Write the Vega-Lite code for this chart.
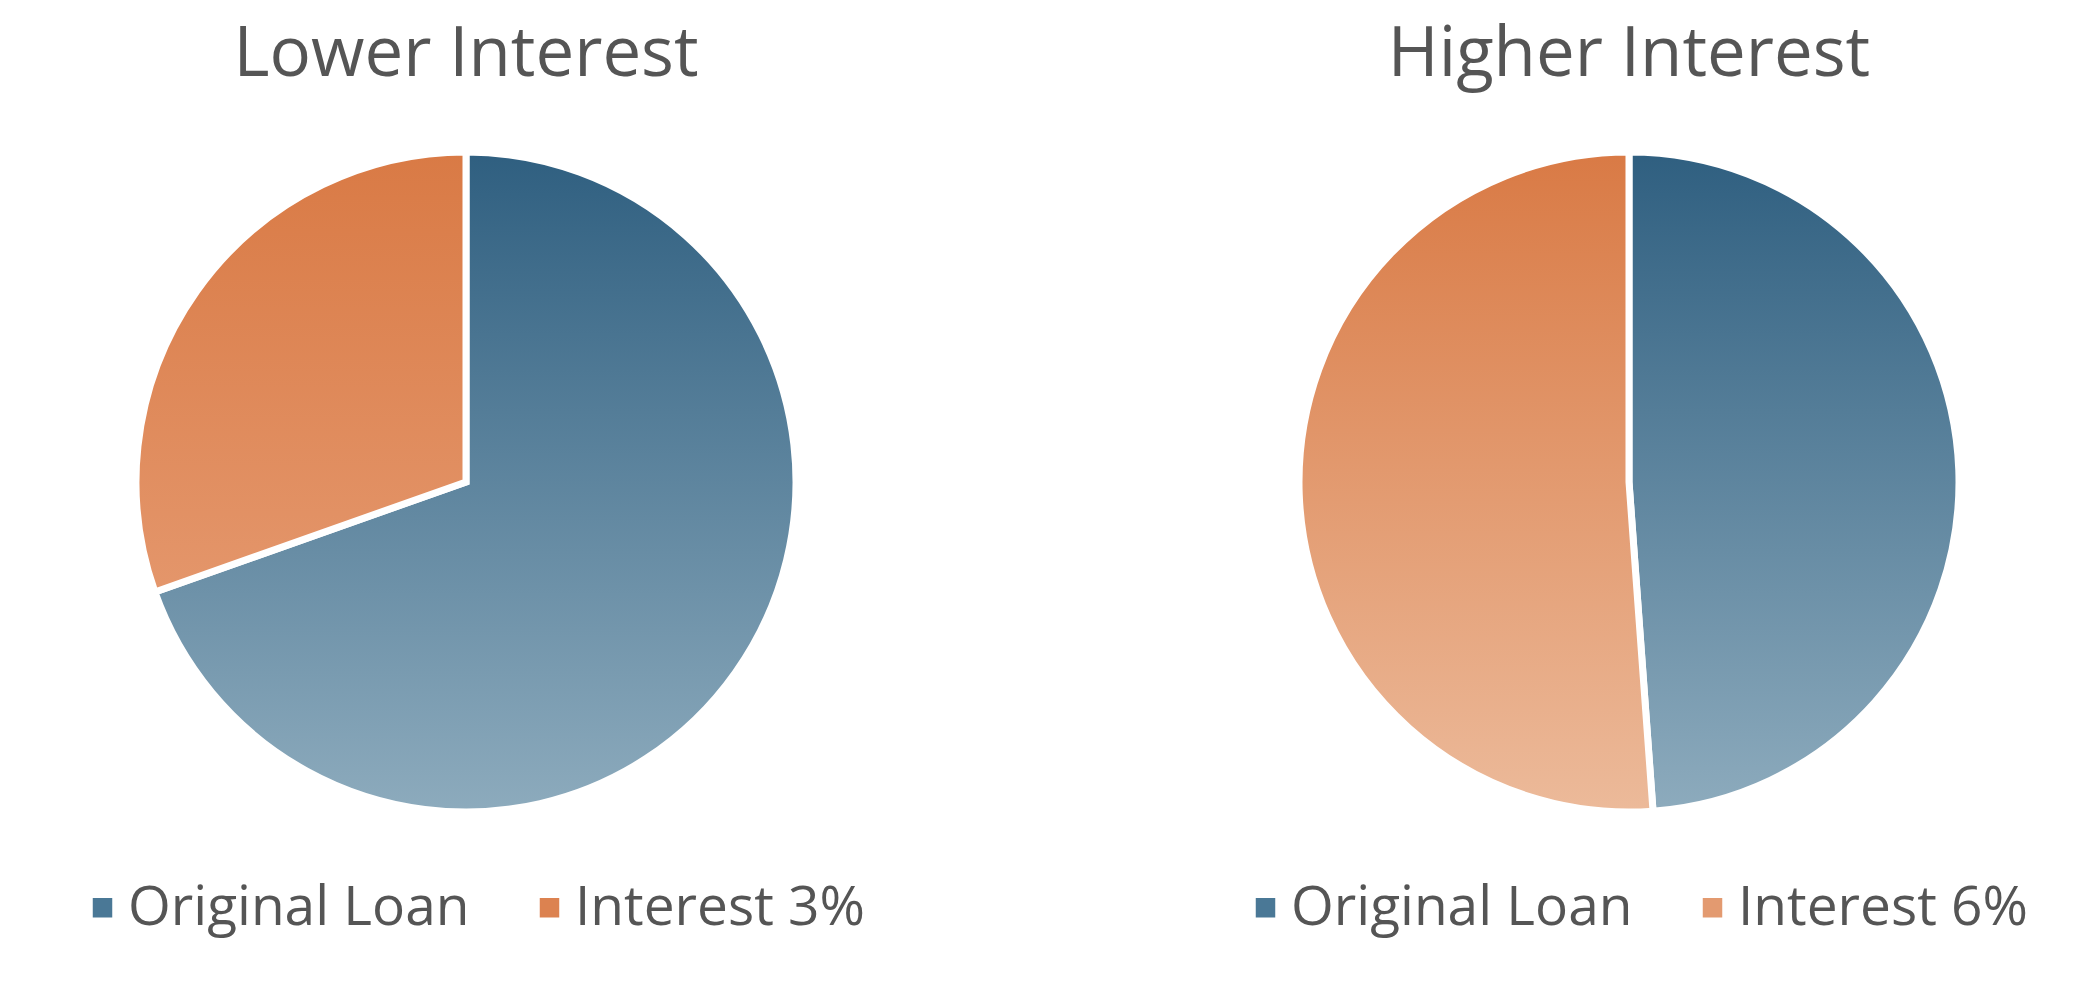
{
  "$schema": "https://vega.github.io/schema/vega-lite/v6.json",
  "background": "white",
  "autosize": {"type": "pad"},
  "padding": {"left": 75, "top": 21, "right": 0, "bottom": 40},
  "config": {
    "view": {"stroke": null},
    "font": "Open Sans",
    "title": {
      "fontSize": 69,
      "fontWeight": "normal",
      "color": "#555555",
      "anchor": "middle",
      "baseline": "alphabetic",
      "offset": 48
    },
    "legend": {
      "labelFontSize": 55,
      "labelColor": "#555555",
      "labelFont": "Open Sans",
      "labelLimit": 800,
      "symbolType": "square",
      "symbolSize": 380,
      "symbolStrokeWidth": 0,
      "labelOffset": -2,
      "columnPadding": 52,
      "padding": 0
    }
  },
  "data": {
    "values": [
      {"chart": "Lower Interest", "part": "Original Loan", "slice": 1, "amount": 100000},
      {"chart": "Lower Interest", "part": "Interest 3%", "slice": 2, "amount": 43700},
      {"chart": "Higher Interest", "part": "Original Loan", "slice": 1, "amount": 100000},
      {"chart": "Higher Interest", "part": "Interest 6%", "slice": 2, "amount": 104750}
    ]
  },
  "spacing": 503,
  "bounds": "flush",
  "hconcat": [
    {
      "title": {"text": "Lower Interest"},
      "width": 660,
      "height": 660,
      "transform": [{"filter": "datum.chart === 'Lower Interest'"}],
      "mark": {"type": "arc", "stroke": "white", "strokeWidth": 7},
      "encoding": {
        "theta": {"field": "amount", "type": "quantitative", "stack": true},
        "order": {"field": "slice", "type": "quantitative"},
        "color": {
          "condition": [
            {"test": "datum.part === 'Original Loan'",
             "value": {"gradient": "linear", "x1": 0, "y1": 0, "x2": 0, "y2": 1,
               "stops": [{"offset": 0, "color": "#2f5f80"}, {"offset": 1, "color": "#8dabbd"}]}},
            {"test": "datum.part === 'Interest 3%'",
             "value": {"gradient": "linear", "x1": 0, "y1": 0, "x2": 0, "y2": 1,
               "stops": [{"offset": 0, "color": "#d97a45"}, {"offset": 1, "color": "#e4966b"}]}}
          ],
          "field": "part",
          "type": "nominal",
          "scale": {
            "domain": ["Original Loan", "Interest 3%"],
            "range": ["#4a7896", "#dc8250"]
          },
          "legend": {
            "title": null,
            "orient": "none",
            "direction": "horizontal",
            "legendX": -61,
            "legendY": 728
          }
        }
      }
    },
    {
      "title": {"text": "Higher Interest"},
      "width": 660,
      "height": 660,
      "transform": [{"filter": "datum.chart === 'Higher Interest'"}],
      "mark": {"type": "arc", "stroke": "white", "strokeWidth": 7},
      "encoding": {
        "theta": {"field": "amount", "type": "quantitative", "stack": true},
        "order": {"field": "slice", "type": "quantitative"},
        "color": {
          "condition": [
            {"test": "datum.part === 'Original Loan'",
             "value": {"gradient": "linear", "x1": 0, "y1": 0, "x2": 0, "y2": 1,
               "stops": [{"offset": 0, "color": "#2f5f80"}, {"offset": 1, "color": "#8dabbd"}]}},
            {"test": "datum.part === 'Interest 6%'",
             "value": {"gradient": "linear", "x1": 0, "y1": 0, "x2": 0, "y2": 1,
               "stops": [{"offset": 0, "color": "#d97a45"}, {"offset": 1, "color": "#ecba9a"}]}}
          ],
          "field": "part",
          "type": "nominal",
          "scale": {
            "domain": ["Original Loan", "Interest 6%"],
            "range": ["#4a7896", "#e39a70"]
          },
          "legend": {
            "title": null,
            "orient": "none",
            "direction": "horizontal",
            "legendX": -61,
            "legendY": 728
          }
        }
      }
    }
  ],
  "resolve": {"scale": {"color": "independent"}, "legend": {"color": "independent"}}
}
